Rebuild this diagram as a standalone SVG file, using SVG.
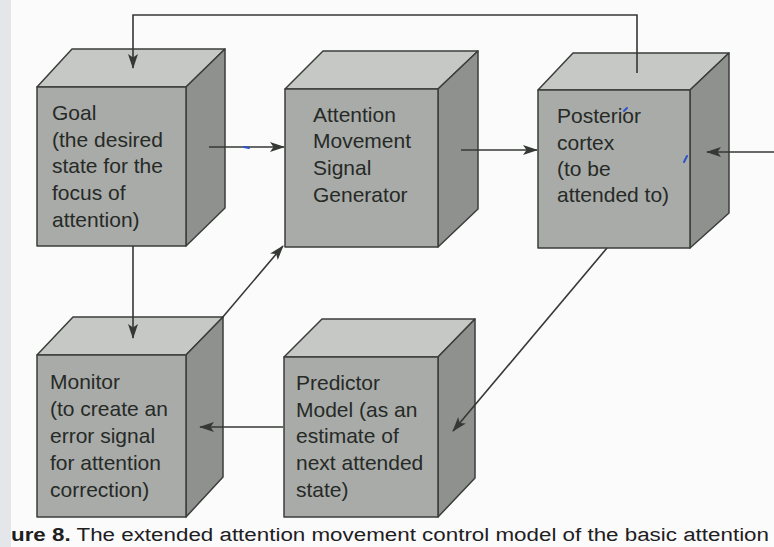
<svg xmlns="http://www.w3.org/2000/svg" width="774" height="547" viewBox="0 0 774 547">
  <defs>
    <style>
      .front { fill: #a9aba9; stroke: #3b3e3b; stroke-width: 1.5; stroke-linejoin: round; }
      .top { fill: #c6c8c6; stroke: #3b3e3b; stroke-width: 1.5; stroke-linejoin: round; }
      .side { fill: #8f918f; stroke: #3b3e3b; stroke-width: 1.5; stroke-linejoin: round; }
      .label { font-family: "Liberation Sans", Arial, sans-serif; font-size: 21px; fill: #262a26; }
      .wire { fill: none; stroke: #353835; stroke-width: 1.6; }
      .ink { fill: none; stroke: #2a55c8; stroke-width: 2; stroke-linecap: round; }
      .caption { font-family: "Liberation Sans", Arial, sans-serif; font-size: 18px; fill: #1e201e; }
    </style>
    <marker id="head" viewBox="0 0 15 10" refX="14" refY="5" markerWidth="15" markerHeight="10" markerUnits="userSpaceOnUse" orient="auto">
      <path d="M0,0 L15,5 L0,10 L3.5,5 Z" fill="#353835"/>
    </marker>
  </defs>

  <!-- page background with the darker scanner margin on the left -->
  <rect x="0" y="0" width="774" height="547" fill="#fbfbfc"/>
  <rect x="0" y="0" width="11" height="547" fill="#e4e6ea"/>

  <!-- cube: Goal -->
  <g id="goal">
    <polygon class="top" points="37,87 72,49 225,49 186,87"/>
    <polygon class="side" points="186,87 225,49 225,208 186,246"/>
    <polygon class="front" points="37,87 186,87 186,246 37,246"/>
    <text class="label" x="52" y="120">Goal</text>
    <text class="label" x="52" y="147">(the desired</text>
    <text class="label" x="52" y="173">state for the</text>
    <text class="label" x="52" y="200">focus of</text>
    <text class="label" x="52" y="227">attention)</text>
  </g>

  <!-- cube: Attention Movement Signal Generator -->
  <g id="generator">
    <polygon class="top" points="285,89 323,51 478,51 438,89"/>
    <polygon class="side" points="438,89 478,51 478,209 438,247"/>
    <polygon class="front" points="285,89 438,89 438,247 285,247"/>
    <text class="label" x="313" y="122">Attention</text>
    <text class="label" x="313" y="148">Movement</text>
    <text class="label" x="313" y="175">Signal</text>
    <text class="label" x="313" y="202">Generator</text>
  </g>

  <!-- cube: Posterior cortex -->
  <g id="posterior">
    <polygon class="top" points="538,90 573,53 729,53 690,90"/>
    <polygon class="side" points="690,90 729,53 729,213 690,248"/>
    <polygon class="front" points="538,90 690,90 690,248 538,248"/>
    <text class="label" x="557" y="123">Posterior</text>
    <text class="label" x="557" y="150">cortex</text>
    <text class="label" x="557" y="176">(to be</text>
    <text class="label" x="557" y="202">attended to)</text>
  </g>

  <!-- cube: Monitor -->
  <g id="monitor">
    <polygon class="top" points="37,355 73,317 223,317 186,355"/>
    <polygon class="side" points="186,355 223,317 223,477 186,517"/>
    <polygon class="front" points="37,355 186,355 186,517 37,517"/>
    <text class="label" x="50" y="389">Monitor</text>
    <text class="label" x="50" y="416">(to create an</text>
    <text class="label" x="50" y="443">error signal</text>
    <text class="label" x="50" y="470">for attention</text>
    <text class="label" x="50" y="497">correction)</text>
  </g>

  <!-- cube: Predictor Model -->
  <g id="predictor">
    <polygon class="top" points="284,357 322,319 475,319 438,357"/>
    <polygon class="side" points="438,357 475,319 475,478 438,517"/>
    <polygon class="front" points="284,357 438,357 438,517 284,517"/>
    <text class="label" x="296" y="390">Predictor</text>
    <text class="label" x="296" y="417">Model (as an</text>
    <text class="label" x="296" y="443">estimate of</text>
    <text class="label" x="296" y="470">next attended</text>
    <text class="label" x="296" y="497">state)</text>
  </g>

  <!-- connectors -->
  <g id="connectors">
    <polyline class="wire" points="637,73 637,15 133,15 133,68" marker-end="url(#head)"/>
    <line class="wire" x1="209" y1="147" x2="284" y2="147" marker-end="url(#head)"/>
    <line class="wire" x1="461" y1="150" x2="537" y2="150" marker-end="url(#head)"/>
    <line class="wire" x1="774" y1="152" x2="707" y2="152" marker-end="url(#head)"/>
    <line class="wire" x1="133" y1="246" x2="133" y2="338" marker-end="url(#head)"/>
    <line class="wire" x1="283" y1="427" x2="200" y2="427" marker-end="url(#head)"/>
    <line class="wire" x1="222" y1="318" x2="283" y2="246" marker-end="url(#head)"/>
    <line class="wire" x1="607" y1="248" x2="453" y2="431" marker-end="url(#head)"/>
  </g>

  <!-- pen marks on the printed page -->
  <path class="ink" d="M244,147 L249,148"/>
  <path class="ink" d="M624,111 L627,108"/>
  <path class="ink" d="M684,162 L687,156"/>

  <!-- figure caption along the lower edge -->
  <text class="caption" x="11" y="541" textLength="758" lengthAdjust="spacingAndGlyphs"><tspan font-weight="bold">ure 8.</tspan> The extended attention movement control model of the basic attention</text>
</svg>
